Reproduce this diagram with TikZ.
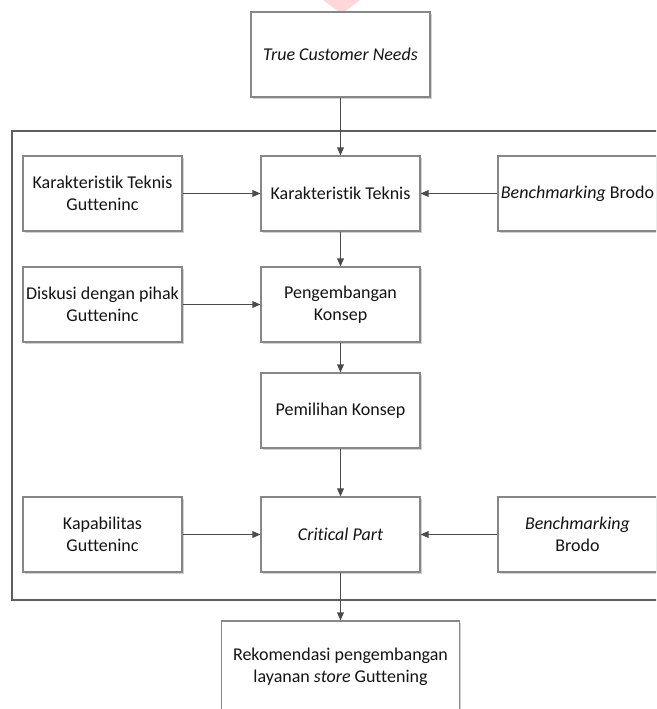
\documentclass[tikz,border=0pt]{standalone}
\usepackage{fontspec}
\setmainfont{Carlito}[Ligatures=NoCommon]
\usetikzlibrary{arrows.meta,shadows}
\definecolor{boxline}{RGB}{135,135,135}
\definecolor{arrline}{RGB}{75,75,75}
\definecolor{frameline}{RGB}{95,95,95}
\definecolor{pinkish}{RGB}{255,214,218}
\tikzset{
  box/.style={draw=boxline, line width=0.8pt, fill=white, align=center,
    minimum width=119.25pt, minimum height=56.25pt, inner sep=1pt,
    font=\fontsize{13.5}{16.5}\selectfont, text=black!92,
    drop shadow={shadow xshift=1.2pt, shadow yshift=-1.2pt, opacity=0.18, fill=black}},
  arr/.style={draw=arrline, line width=0.9pt, -{Triangle[length=6pt,width=5pt]}},
  frame/.style={draw=frameline, line width=0.9pt}
}
\begin{document}
\begin{tikzpicture}[x=0.75pt, y=-0.75pt]
\useasboundingbox (0,0) rectangle (656,709);
\clip (0,0) rectangle (656,709);
\fill[white] (0,0) rectangle (656,709);
% pink shape at top
\fill[pinkish] (323,0) -- (360,0) -- (341.5,14) -- cycle;
% outer frame
\draw[frame] (12,131) rectangle (668,600);
% nodes
\node[box, minimum width=134.25pt, minimum height=63.75pt] (tcn) at (340.5,54.5) {\itshape True Customer Needs};
\node[box] (kt) at (340.5,193.5) {Karakteristik Teknis};
\node[box] (ktg) at (102.5,193.5) {Karakteristik Teknis\\Gutteninc};
\node[box] (bb1) at (577.5,193.5) {\textit{Benchmarking} Brodo};
\node[box] (pk) at (340.5,304.5) {Pengembangan\\Konsep};
\node[box] (dk) at (102.5,304.5) {Diskusi dengan pihak\\Gutteninc};
\node[box] (pemk) at (340.5,410.5) {Pemilihan Konsep};
\node[box] (cp) at (340.5,534.5) {\itshape Critical Part};
\node[box] (kg) at (102.5,534.5) {Kapabilitas\\Gutteninc};
\node[box] (bb2) at (577.5,534.5) {\textit{Benchmarking}\\Brodo};
\node[box, minimum width=178.5pt, minimum height=69pt] (rek) at (340.5,667) {Rekomendasi pengembangan\\layanan \textit{store} Guttening};
% connectors
\draw[arr] (tcn.south) -- (kt.north);
\draw[arr] (ktg.east) -- (kt.west);
\draw[arr] (bb1.west) -- (kt.east);
\draw[arr] (kt.south) -- (pk.north);
\draw[arr] (dk.east) -- (pk.west);
\draw[arr] (pk.south) -- (pemk.north);
\draw[arr] (pemk.south) -- (cp.north);
\draw[arr] (kg.east) -- (cp.west);
\draw[arr] (bb2.west) -- (cp.east);
\draw[arr] (cp.south) -- (rek.north);
\end{tikzpicture}
\end{document}
